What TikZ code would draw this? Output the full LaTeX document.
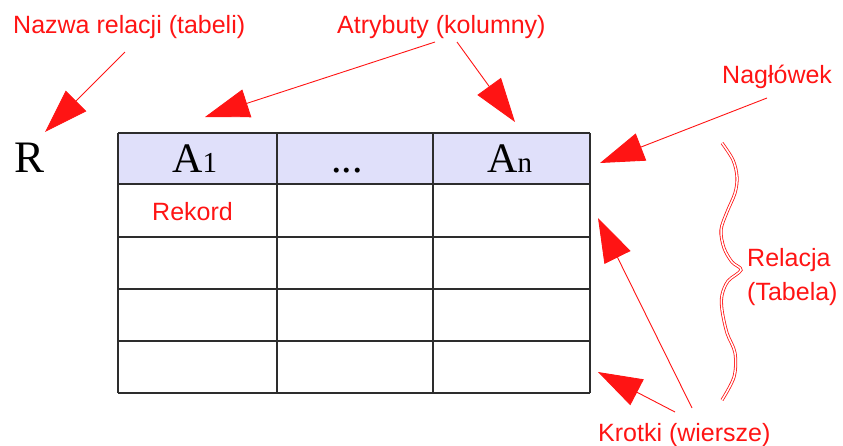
\documentclass[tikz,border=0pt]{standalone}
\usepackage{fontspec}
\setmainfont{Liberation Serif}
\newfontfamily\lsans{Liberation Sans}
\usetikzlibrary{arrows.meta}
\definecolor{hdr}{RGB}{224,224,250}
\definecolor{lbl}{RGB}{255,20,20}
\definecolor{gridc}{RGB}{45,45,45}
\begin{document}
\begin{tikzpicture}[x=1pt,y=-1pt,
  lab/.style={font=\lsans\fontsize{25}{25}\selectfont, text=lbl, inner sep=0pt, anchor=base west},
  ser/.style={font=\fontsize{42}{42}\selectfont, inner sep=0pt, anchor=base west},
  pointer/.style={draw=lbl, line width=0.9pt, -{Triangle[length=44pt,width=29pt]}},
  gridline/.style={draw=gridc, line width=1.3pt},
  bracel/.style={draw=lbl, line width=0.8pt, double=white, double distance=1.5pt}
]
\useasboundingbox (0,0) rectangle (843,445);
% table
\fill[hdr] (118,133) rectangle (590,184);
\foreach \y in {133,184,237,289,341,393} \draw[gridline] (118,\y) -- (590,\y);
\foreach \x in {118,277,433,590} \draw[gridline] (\x,133) -- (\x,393);
% header texts
\node[ser] (a1) at (172,172) {A{\fontsize{29}{29}\selectfont 1}};
\node[ser] (dots) at (331,172) {...};
\node[ser] (an) at (487,172) {A{\fontsize{29}{29}\selectfont n}};
\node[ser, font=\fontsize{45}{45}\selectfont] (R) at (14,172) {R};
\node[lab] (rekord) at (152,220) {Rekord};
% labels
\node[lab] (nazwa) at (13,33) {Nazwa relacji (tabeli)};
\node[lab] (atr) at (337,33) {Atrybuty (kolumny)};
\node[lab] (nag) at (722,83) {Nagłówek};
\node[lab] (rel1) at (747,266) {Relacja};
\node[lab] (rel2) at (747,300) {(Tabela)};
\node[lab] (krotki) at (598,441) {Krotki (wiersze)};
% arrow ends
\coordinate (s1) at (125,52);   \coordinate (t1) at (45,132);
\coordinate (s2) at (435,42);   \coordinate (t2) at (205,117);
\coordinate (s3) at (457,42);   \coordinate (t3) at (515,122);
\coordinate (s4) at (767,98);   \coordinate (t4) at (600,163);
\coordinate (s5) at (692,408);  \coordinate (t5) at (598,218);
\coordinate (s6) at (675,412);  \coordinate (t6) at (598,372);
\draw[pointer] (s1) -- (t1);
\draw[pointer] (s2) -- (t2);
\draw[pointer] (s3) -- (t3);
\draw[pointer] (s4) -- (t4);
\draw[pointer] (s5) -- (t5);
\draw[pointer] (s6) -- (t6);
% brace
\draw[bracel] plot[smooth, tension=0.55] coordinates {(722,143) (733,160) (737,177) (735,193) (727,212) (721,230) (724,248) (732,262) (741,270) (728,281) (722,295) (722,310) (727,333) (735,353) (734,377) (722,400)};
\end{tikzpicture}
\end{document}
